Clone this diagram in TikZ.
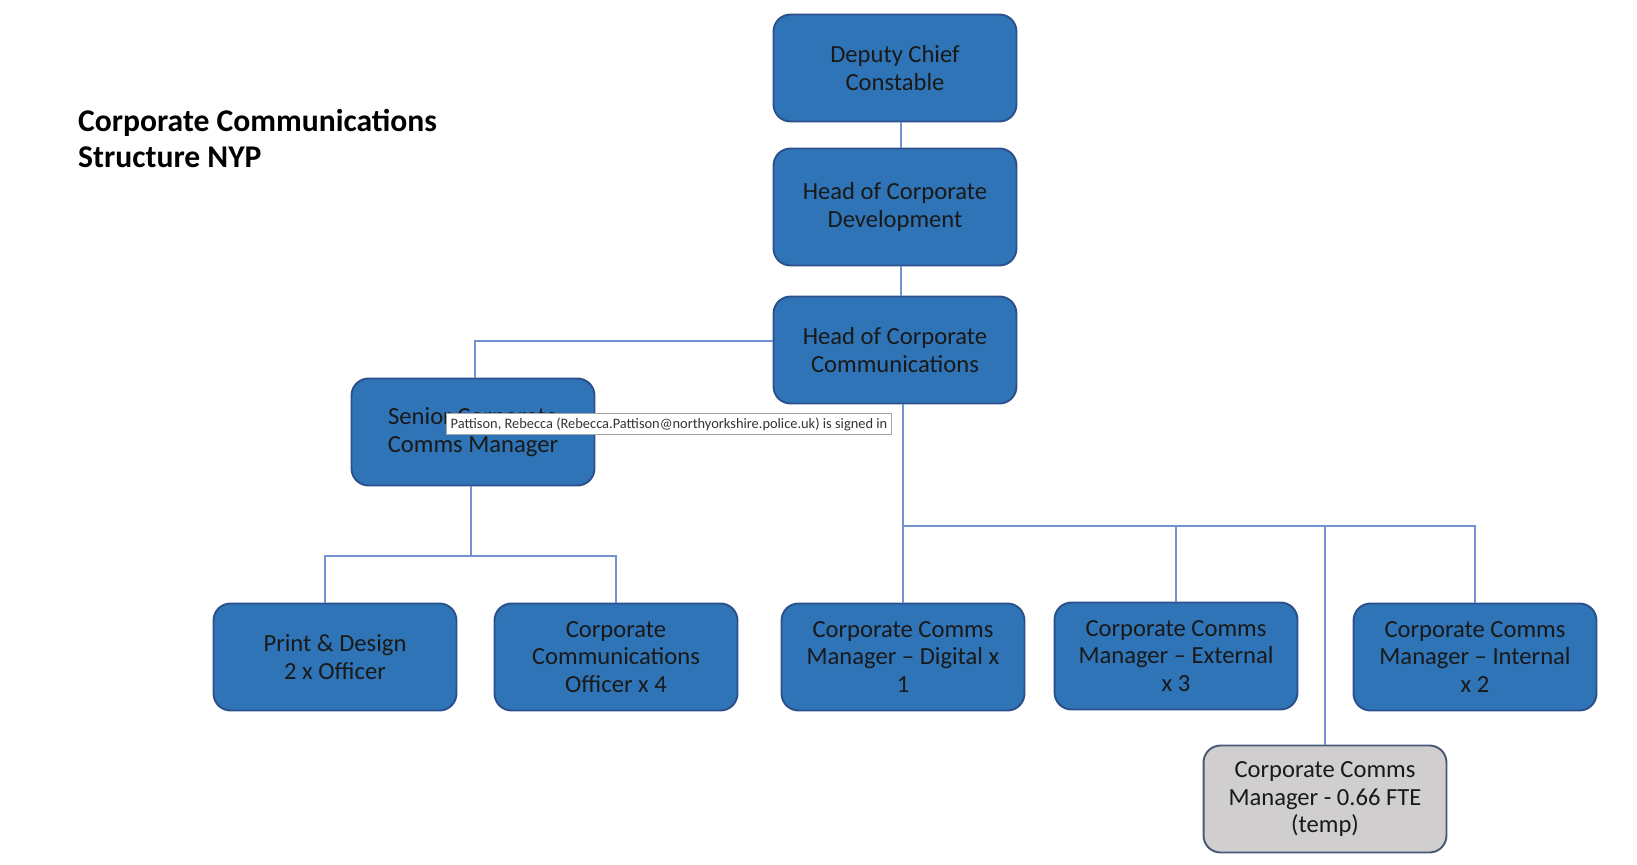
\documentclass[tikz,border=0pt]{standalone}
\usepackage{fontspec}
\setmainfont{Carlito}
\usetikzlibrary{positioning,calc}
\definecolor{postblue}{RGB}{46,116,182}
\definecolor{postedge}{RGB}{44,80,140}
\definecolor{linkblue}{RGB}{114,146,208}
\definecolor{tempgray}{RGB}{208,206,206}
\definecolor{tempedge}{RGB}{72,88,118}

\begin{document}
\begin{tikzpicture}[x=0.02cm,y=-0.02cm,
    post/.style={draw=postedge, line width=1.1pt, fill=postblue, rounded corners=0.34cm,
      minimum width=4.86cm, minimum height=2.14cm, align=center, text=black!90,
      font=\fontsize{14}{15.6}\selectfont},
    temppost/.style={post, fill=tempgray, draw=tempedge},
    link/.style={draw=linkblue, line width=0.6pt}]
    \useasboundingbox (0,0) rectangle (1637,865);
    % title
    \node[anchor=north west, align=left, font=\bfseries\fontsize{18}{20.5}\selectfont] (title) at (72,103) {Corporate Communications\\Structure NYP};
    % top chain
    \node[post] (dcc) at (895,68) {Deputy Chief\\Constable};
    \node[post, minimum height=2.34cm] (hcd) at (895,207) {Head of Corporate\\Development};
    \node[post] (hcc) at (895,350) {Head of Corporate\\Communications};
    \node[post] (scm) at (473,432) {Senior Corporate\\Comms Manager};
    % bottom row
    \node[post] (pdo) at (335,657) {Print \& Design\\2 x Officer};
    \node[post] (cco) at (616,657) {Corporate\\Communications\\Officer x 4};
    \node[post] (ccd) at (903,657) {Corporate Comms\\Manager -- Digital x\\1};
    \node[post] (cce) at (1176,656) {Corporate Comms\\Manager -- External\\x 3};
    \node[post] (cci) at (1475,657) {Corporate Comms\\Manager -- Internal\\x 2};
    \node[temppost] (tmp) at (1325,799) {Corporate Comms\\Manager - 0.66 FTE\\(temp)};
    % connectors
    \coordinate (lbus) at (475,341);
    \coordinate (sbus) at (471,556);
    \coordinate (rbus) at (903,526);
    \draw[link] ([xshift=0.12cm]dcc.south) -- ([xshift=0.12cm]hcd.north);
    \draw[link] ([xshift=0.12cm]hcd.south) -- ([xshift=0.12cm]hcc.north);
    \draw[link] (hcc.west |- lbus) -| (scm.north -| lbus);
    \draw[link] (scm.south -| sbus) -- (sbus);
    \draw[link] ([xshift=-0.2cm]pdo.north) |- (sbus) -| (cco.north);
    \draw[link] (hcc.south -| ccd.north) -- (ccd.north);
    \draw[link] (rbus) -| (cci.north);
    \draw[link] (rbus -| cce.north) -- (cce.north);
    \draw[link] (rbus -| tmp.north) -- (tmp.north);
    % signed-in tooltip
    \node[draw=black!35, fill=white, inner sep=2.2pt, text=black!80, font=\fontsize{8.2}{9}\selectfont] (tip) at (669,424) {Pattison, Rebecca (Rebecca.Pattison@northyorkshire.police.uk) is signed in};
\end{tikzpicture}
\end{document}
